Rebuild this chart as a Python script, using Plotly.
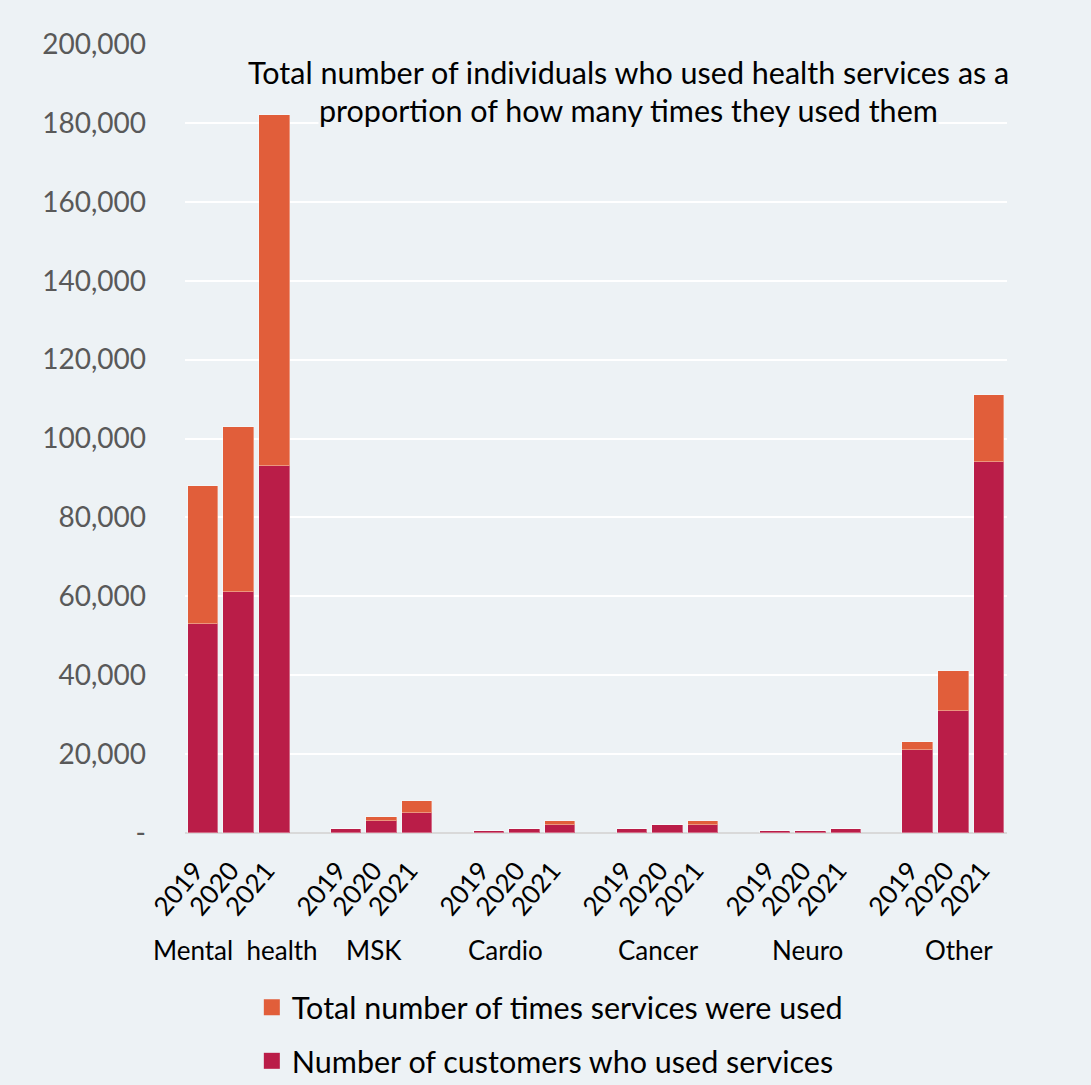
import plotly.graph_objects as go

categories = ["Mental  health", "MSK", "Cardio", "Cancer", "Neuro", "Other"]
years = ["2019", "2020", "2021"]
# Number of customers who used services (per category, per year)
customers = [
    [53000, 61000, 93000],
    [1000, 3000, 5000],
    [500, 1000, 2000],
    [1000, 2000, 2000],
    [500, 500, 1000],
    [21000, 31000, 94000],
]
# Additional segment: total number of times services were used (stacked on top)
times_extra = [
    [35000, 42000, 89000],
    [0, 1000, 3000],
    [0, 0, 1000],
    [0, 0, 1000],
    [0, 0, 0],
    [2000, 10000, 17000],
]
y_ticks = [0, 20000, 40000, 60000, 80000, 100000, 120000, 140000, 160000, 180000, 200000]
y_ticktext = ["-"] + [f"{v:,}" for v in y_ticks[1:]]

BG = "#EDF2F5"
ORANGE = "#E15E3A"
CRIMSON = "#BA1D48"
FONT = "Lato, Noto Sans, sans-serif"
label_shifts = [-3, -8, -19, -9, -3, 6]

xs, cust_vals, extra_vals, tick_labels = [], [], [], []
for ci, cat in enumerate(categories):
    for yi, yr in enumerate(years):
        xs.append(ci * 4 + yi)
        cust_vals.append(customers[ci][yi])
        extra_vals.append(times_extra[ci][yi])
        tick_labels.append(yr)

fig = go.Figure()
fig.add_trace(go.Bar(x=xs, y=cust_vals, marker=dict(color=CRIMSON, line=dict(color="rgba(255,255,255,0.35)", width=1)),
                     width=0.85, showlegend=False, name="Number of customers who used services"))
fig.add_trace(go.Bar(x=xs, y=extra_vals, marker=dict(color=ORANGE, line=dict(color="rgba(255,255,255,0.35)", width=1)),
                     width=0.85, showlegend=False, name="Total number of times services were used"))
# legend entries
fig.add_trace(go.Scatter(x=[None], y=[None], mode="markers", name="Total number of times services were used",
                         marker=dict(symbol="square", size=16, color=ORANGE), legendgroup="a"))
fig.add_trace(go.Scatter(x=[None], y=[None], mode="markers", name="Number of customers who used services",
                         marker=dict(symbol="square", size=16, color=CRIMSON), legendgroup="b"))

annotations = []
for ci, cat in enumerate(categories):
    annotations.append(dict(x=ci * 4 + 1, y=-0.148, xref="x", yref="paper", text=cat, showarrow=False,
                            xshift=label_shifts[ci],
                            font=dict(size=26, color="black", family=FONT), xanchor="center", yanchor="middle"))
annotations.append(dict(x=0.539, y=0.9645, xref="paper", yref="paper",
                        text="Total number of individuals who used health services as a", showarrow=False,
                        font=dict(size=30.5, color="black", family=FONT), bgcolor=BG, borderpad=0,
                        xanchor="center", yanchor="middle"))
annotations.append(dict(x=0.539, y=0.916, xref="paper", yref="paper",
                        text="proportion of how many times they used them", showarrow=False,
                        font=dict(size=30.5, color="black", family=FONT), bgcolor=BG, borderpad=0,
                        xanchor="center", yanchor="middle"))

fig.update_layout(
    width=1091, height=1085,
    barmode="stack", bargap=0,
    paper_bgcolor=BG, plot_bgcolor=BG,
    margin=dict(l=185, r=84, t=44, b=252, autoexpand=False),
    font=dict(family=FONT),
    xaxis=dict(range=[-0.5, 22.5], tickmode="array", tickvals=xs, ticktext=tick_labels, tickangle=-50,
               tickfont=dict(size=26, color="black", family=FONT), showgrid=False, zeroline=False,
               showline=False, ticks="", automargin=False, ticklabelstandoff=16, ticklabelshift=-8),
    yaxis=dict(range=[0, 200000], tickmode="array", tickvals=y_ticks, ticktext=y_ticktext,
               tickfont=dict(size=28, color="#595959", family=FONT), showgrid=True, gridcolor="white",
               gridwidth=2, zeroline=True, zerolinecolor="#D9D9D9", zerolinewidth=2, showline=False,
               ticks="", ticklabelstandoff=38, automargin=False),
    legend=dict(x=0.0813, y=0.096, xref="paper", yref="container", xanchor="left", yanchor="top",
                traceorder="grouped", tracegroupgap=11,
                font=dict(size=30.5, color="black", family=FONT), bgcolor="rgba(0,0,0,0)"),
    annotations=annotations,
)

fig.write_html("out.html")
